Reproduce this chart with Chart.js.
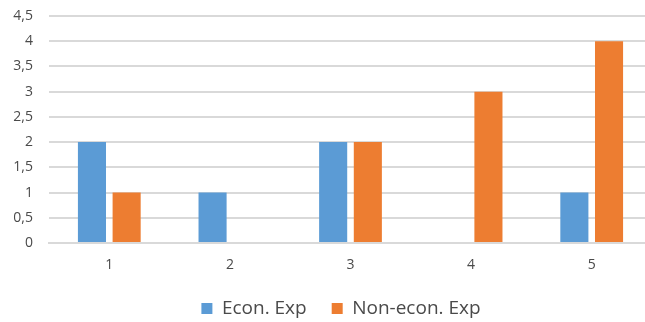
<!DOCTYPE html>
<html>
<head>
<meta charset="utf-8">
<script src="https://cdn.jsdelivr.net/npm/chart.js@4/dist/chart.umd.min.js"></script>
<style>
  body { margin: 0; overflow: hidden; background: #fff; }
  #wrap { width: 652px; height: 322px; }
</style>
</head>
<body>
<div id="wrap"><canvas id="myChart"></canvas></div>
<script>
'use strict';

var categories = ['1', '2', '3', '4', '5'];
var econValues = [2, 1, 2, 0, 1];
var nonEconValues = [1, 0, 2, 3, 4];
var seriesNames = ['Econ. Exp', 'Non-econ. Exp'];

var textColor = '#4a4a4a';

// nudge the legend a bit right and up, like the original
var legendShift = {
  id: 'legendShift',
  afterLayout: function (chart) {
    var lg = chart.legend;
    lg.left += 15;
    lg.right += 15;
    lg.top -= 9;
    lg.bottom -= 9;
  }
};

var ctx = document.getElementById('myChart').getContext('2d');
var chart = new Chart(ctx, {
  type: 'bar',
  data: {
    labels: categories,
    datasets: [{
      label: seriesNames[0],
      backgroundColor: '#5B9BD5',
      data: econValues
    }, {
      label: seriesNames[1],
      backgroundColor: '#ED7D31',
      data: nonEconValues
    }]
  },
  options: {
    responsive: true,
    maintainAspectRatio: false,
    animation: false,
    layout: { padding: { left: 0, top: 16, right: 0, bottom: -15 } },
    categoryPercentage: 0.575,
    barPercentage: 0.81,
    plugins: {
      tooltip: { enabled: false },
      legend: {
        position: 'bottom',
        labels: {
          boxWidth: 11,
          boxHeight: 11,
          padding: 25,
          color: textColor,
          font: { family: 'Open Sans', size: 19 }
        }
      }
    },
    scales: {
      x: {
        grid: { display: false, drawTicks: false },
        border: { color: '#d9d9d9', width: 2 },
        ticks: { color: textColor, padding: 14, font: { family: 'Open Sans', size: 14 } },
        afterFit: function (scale) { scale.height = 40; }
      },
      y: {
        min: 0,
        max: 4.5,
        // invisible tick marks push the labels away from the plot
        grid: { color: '#d9d9d9', lineWidth: 2, drawTicks: true, tickLength: 16, tickColor: 'rgba(0,0,0,0)' },
        border: { display: false },
        ticks: {
          stepSize: 0.5,
          padding: 0,
          color: textColor,
          font: { family: 'Open Sans', size: 14 },
          callback: function (v) { return String(v).replace('.', ','); }
        },
        afterFit: function (scale) { scale.width = 49; }
      }
    }
  },
  plugins: [legendShift]
});
</script>
</body>
</html>
